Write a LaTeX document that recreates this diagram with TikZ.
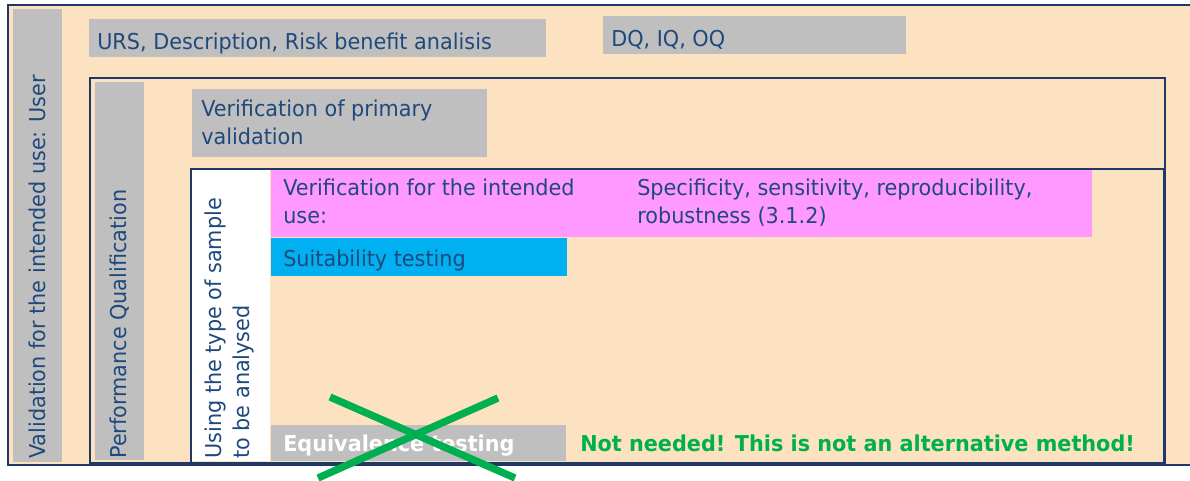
\documentclass[tikz,border=0pt]{standalone}
\usepackage{fontspec}
\setmainfont[FakeStretch=0.95]{DejaVu Sans}
\definecolor{peach}{RGB}{252,226,193}
\definecolor{boxgray}{RGB}{191,191,191}
\definecolor{pinkfill}{RGB}{255,153,255}
\definecolor{cyanfill}{RGB}{0,176,240}
\definecolor{navy}{RGB}{31,56,100}
\definecolor{txtblue}{RGB}{31,73,125}
\definecolor{okgreen}{RGB}{0,176,80}
\tikzset{
  lbl/.style={font=\fontsize{16.4}{20.5}\selectfont, text=txtblue, inner sep=0pt, anchor=west, align=left},
  rotlbl/.style={lbl, rotate=90, anchor=west},
}
\begin{document}
\begin{tikzpicture}[x=0.75pt,y=-0.75pt]
\useasboundingbox (0,0) rectangle (1190,480);
% outer frame
\fill[peach] (8,5) rectangle (1190,465);
\draw[navy, line width=2pt] (1192,5) -- (8,5) -- (8,465) -- (1192,465);
\node[coordinate] (outer) at (8,5) {};
% left strip
\fill[boxgray] (13,9) rectangle (62,462);
\node[rotlbl] (valuser) at (37,459) {Validation for the intended use: User};
% URS and DQ
\fill[boxgray] (89,19) rectangle (546,57);
\node[lbl] (urs) at (97,43) {URS, Description, Risk benefit analisis};
\fill[boxgray] (603,16) rectangle (906,54);
\node[lbl] (dq) at (611,40) {DQ, IQ, OQ};
% PQ frame
\draw[navy, line width=2.2pt] (90,78) rectangle (1165,463);
\fill[boxgray] (95,82) rectangle (144,460);
\node[rotlbl] (pq) at (120,459) {Performance Qualification};
% verification primary
\fill[boxgray] (192,89) rectangle (487,157);
\node[lbl, anchor=north west] (vprim) at (201,100) {Verification of primary\\validation};
% inner frame
\fill[white] (192,170) rectangle (270,461);
\draw[navy, line width=1.1pt] (191,169) rectangle (1164,463);
\node[rotlbl, anchor=north west] (using) at (205,459) {Using the type of sample\\to be analysed};
% pink
\fill[pinkfill] (271,170) rectangle (1092,237);
\node[lbl, anchor=north west] (vint) at (283,179) {Verification for the intended\\use:};
\node[lbl, anchor=north west] (spec) at (637,179) {Specificity, sensitivity, reproducibility,\\robustness (3.1.2)};
% cyan
\fill[cyanfill] (271,238) rectangle (567,276);
\node[lbl] (suit) at (283,260) {Suitability testing};
% equivalence
\fill[boxgray] (271,425) rectangle (566,461);
\node[lbl, text=white, font=\fontsize{16.4}{20.5}\selectfont\bfseries] (equiv) at (283,446) {Equivalence testing};
\node[lbl, text=okgreen, font=\fontsize{16.4}{20.5}\selectfont\bfseries] (notneeded) at (580,443) {Not needed! This is not an alternative method!};
% green X
\coordinate (xa1) at (330,397);
\coordinate (xa2) at (515,478);
\coordinate (xb1) at (498,398);
\coordinate (xb2) at (318,478);
\draw[okgreen, line width=5.5pt] (xa1) -- (xa2);
\draw[okgreen, line width=5.5pt] (xb1) -- (xb2);
\end{tikzpicture}
\end{document}
